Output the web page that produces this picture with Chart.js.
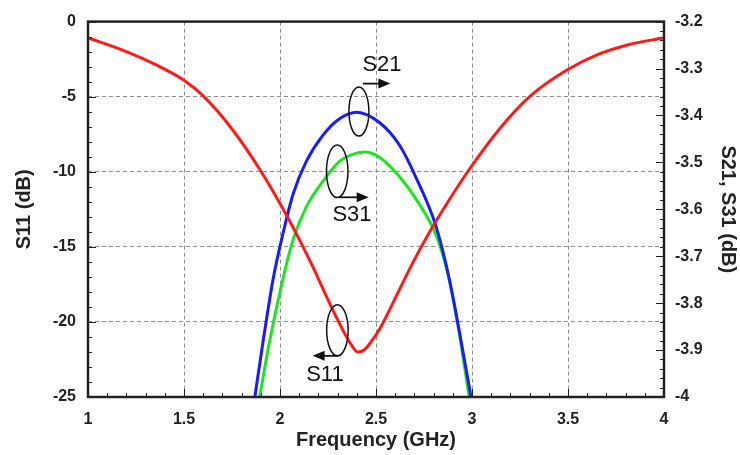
<!DOCTYPE html>
<html><head><meta charset="utf-8">
<script src="https://cdn.jsdelivr.net/npm/chart.js@4/dist/chart.umd.min.js"></script>
<style>html,body{margin:0;padding:0;background:#fff}#wrap{width:740px;height:455px;position:relative}</style>
</head><body><div id="wrap"><canvas id="c" width="740" height="455"></canvas></div>
<script>
// ---- data ----
const freqS11 = [1.0, 1.17, 1.35, 1.5, 1.6, 1.75, 1.9, 2.03, 2.1, 2.17, 2.26, 2.33, 2.37, 2.405, 2.44, 2.47, 2.52, 2.605, 2.69, 2.78, 2.88, 2.98, 3.14, 3.3, 3.49, 3.66, 3.82, 4.0];
const s11 =     [-1.09, -1.85, -2.85, -3.9, -4.95, -7.15, -9.95, -12.8, -14.5, -16.3, -18.8, -20.6, -21.5, -22.0, -21.85, -21.4, -20.45, -18.3, -16.1, -14.0, -11.9, -9.95, -7.2, -5.0, -3.26, -2.17, -1.52, -1.08];
const freqS21 = [1.869, 1.912, 1.964, 2.016, 2.068, 2.137, 2.224, 2.31, 2.40, 2.518, 2.622, 2.709, 2.813, 2.882, 2.934, 2.995];
const s21 =     [-4.0, -3.881, -3.749, -3.651, -3.568, -3.498, -3.442, -3.407, -3.393, -3.415, -3.463, -3.533, -3.637, -3.749, -3.86, -4.0];
const freqS31 = [1.894, 1.946, 2.007, 2.068, 2.137, 2.224, 2.31, 2.37, 2.44, 2.518, 2.622, 2.726, 2.813, 2.87, 2.93, 2.985];
const s31 =     [-4.0, -3.881, -3.763, -3.665, -3.595, -3.54, -3.498, -3.484, -3.478, -3.489, -3.530, -3.589, -3.655, -3.73, -3.855, -4.0];

const xTicks = [1, 1.5, 2, 2.5, 3, 3.5, 4];
const xTickLabels = ['1', '1.5', '2', '2.5', '3', '3.5', '4'];
const leftTicks = [-25, -20, -15, -10, -5, 0];
const leftTickLabels = ['-25', '-20', '-15', '-10', '-5', '0'];
const rightTicks = [-4, -3.9, -3.8, -3.7, -3.6, -3.5, -3.4, -3.3, -3.2];
const rightTickLabels = ['-4', '-3.9', '-3.8', '-3.7', '-3.6', '-3.5', '-3.4', '-3.3', '-3.2'];

// annotation labels (ellipse + arrow + text), positions in data units of x / left axis
const noteLabels = ['S21', 'S31', 'S11'];
const notePlacement = [
  {ex: 2.411, ey: -5.99, erx: 0.052, ery: 1.63, ax0: 2.432, ax1: 2.575, ay: -4.13, tx: 2.531, ty: -2.87},
  {ex: 2.298, ey: -9.97, erx: 0.056, ery: 1.75, ax0: 2.304, ax1: 2.462, ay: -11.7, tx: 2.375, ty: -12.86},
  {ex: 2.299, ey: -20.56, erx: 0.056, ery: 1.70, ax0: 2.304, ax1: 2.170, ay: -22.26, tx: 2.234, ty: -23.5}
];

const toPts = (xs, ys) => xs.map((x, i) => ({x: x, y: ys[i]}));
const FONT = "'Liberation Sans', Arial, sans-serif";
const labelFor = (vals, labs) => (v) => { const i = vals.findIndex(t => Math.abs(t - v) < 1e-6); return i >= 0 ? labs[i] : ''; };

const decor = {
  id: 'decor',
  afterDatasetsDraw(chart) {
    const ctx = chart.ctx, a = chart.chartArea;
    const sx = chart.scales.x, sy = chart.scales.y, sy2 = chart.scales.y2;
    ctx.save();
    ctx.strokeStyle = '#222';
    ctx.lineWidth = 1;
    for (let k = 0; k <= 30; k++) {
      const px = Math.round(sx.getPixelForValue(1 + k * 0.1)) + 0.5;
      const len = (k % 5 === 0) ? 8 : 4;
      ctx.beginPath(); ctx.moveTo(px, a.bottom); ctx.lineTo(px, a.bottom - len); ctx.stroke();
    }
    for (let k = 0; k <= 25; k++) {
      const py = Math.round(sy.getPixelForValue(-k)) + 0.5;
      const len = (k % 5 === 0) ? 8 : 4;
      ctx.beginPath(); ctx.moveTo(a.left, py); ctx.lineTo(a.left + len, py); ctx.stroke();
    }
    for (let k = 0; k <= 40; k++) {
      const py = Math.round(sy2.getPixelForValue(-3.2 - k * 0.02)) + 0.5;
      const len = (k % 5 === 0) ? 8 : 4;
      ctx.beginPath(); ctx.moveTo(a.right, py); ctx.lineTo(a.right - len, py); ctx.stroke();
    }
    ctx.lineWidth = 2.5;
    ctx.strokeStyle = '#222';
    ctx.strokeRect(a.left, a.top, a.right - a.left, a.bottom - a.top);

    ctx.strokeStyle = '#111';
    ctx.fillStyle = '#111';
    notePlacement.forEach((n, i) => {
      ctx.lineWidth = 1.5;
      const cx = sx.getPixelForValue(n.ex), cy = sy.getPixelForValue(n.ey);
      const rx = Math.abs(sx.getPixelForValue(n.ex + n.erx) - cx);
      const ry = Math.abs(sy.getPixelForValue(n.ey + n.ery) - cy);
      ctx.beginPath(); ctx.ellipse(cx, cy, rx, ry, 0, 0, Math.PI * 2); ctx.stroke();
      const x0 = sx.getPixelForValue(n.ax0), x1 = sx.getPixelForValue(n.ax1), ay = sy.getPixelForValue(n.ay);
      const dir = Math.sign(x1 - x0);
      ctx.lineWidth = 1.8;
      ctx.beginPath(); ctx.moveTo(x0, ay); ctx.lineTo(x1 - dir * 8, ay); ctx.stroke();
      ctx.beginPath(); ctx.moveTo(x1, ay); ctx.lineTo(x1 - dir * 12, ay - 5); ctx.lineTo(x1 - dir * 12, ay + 5); ctx.closePath(); ctx.fill();
      ctx.font = '22px ' + FONT;
      ctx.textAlign = 'center'; ctx.textBaseline = 'middle';
      ctx.fillText(noteLabels[i], sx.getPixelForValue(n.tx), sy.getPixelForValue(n.ty));
    });
    ctx.restore();
  }
};

const tickFont = {family: FONT, weight: 'bold', size: 16};
const titleFont = {family: FONT, weight: 'bold', size: 20};
const lineStyle = {borderWidth: 3, pointRadius: 0, cubicInterpolationMode: 'monotone', fill: false};

new Chart(document.getElementById('c'), {
  type: 'line',
  data: {
    datasets: [
      Object.assign({label: 'S11', data: toPts(freqS11, s11), yAxisID: 'y', borderColor: '#ff1a1a'}, lineStyle),
      Object.assign({label: 'S21', data: toPts(freqS21, s21), yAxisID: 'y2', borderColor: '#1a1aff'}, lineStyle),
      Object.assign({label: 'S31', data: toPts(freqS31, s31), yAxisID: 'y2', borderColor: '#1ee61e'}, lineStyle)
    ]
  },
  options: {
    responsive: false,
    animation: false,
    devicePixelRatio: 1,
    layout: {padding: {top: 14, left: 0, right: 0, bottom: 0}},
    plugins: {legend: {display: false}, tooltip: {enabled: false}},
    scales: {
      x: {
        type: 'linear', min: 1, max: 4,
        afterBuildTicks: s => { s.ticks = xTicks.map(v => ({value: v})); },
        afterFit: s => { s.height = 58; },
        ticks: {callback: labelFor(xTicks, xTickLabels), font: tickFont, color: '#222', padding: 13, maxRotation: 0, autoSkip: false},
        grid: {color: '#8c8c8c', lineWidth: 1, drawTicks: false},
        border: {display: false, dash: [4, 3]},
        title: {display: true, text: 'Frequency (GHz)', font: titleFont, color: '#222', padding: {top: 0, bottom: 3}}
      },
      y: {
        type: 'linear', position: 'left', min: -25, max: 0,
        afterBuildTicks: s => { s.ticks = leftTicks.map(v => ({value: v})); },
        afterFit: s => { s.width = 88; },
        ticks: {callback: labelFor(leftTicks, leftTickLabels), font: tickFont, color: '#222', padding: 12},
        grid: {color: '#8c8c8c', lineWidth: 1, drawTicks: false},
        border: {display: false, dash: [4, 3]},
        title: {display: true, text: 'S11 (dB)', font: titleFont, color: '#222', padding: {top: 12, bottom: 0}}
      },
      y2: {
        type: 'linear', position: 'right', min: -4, max: -3.2,
        afterBuildTicks: s => { s.ticks = rightTicks.map(v => ({value: v})); },
        afterFit: s => { s.width = 76; },
        ticks: {callback: labelFor(rightTicks, rightTickLabels), font: tickFont, color: '#222', padding: 11},
        grid: {drawOnChartArea: false, drawTicks: false},
        border: {display: false},
        title: {display: true, text: 'S21, S31 (dB)', font: titleFont, color: '#222', padding: {top: 0, bottom: 0}}
      }
    }
  },
  plugins: [decor]
});
</script>
</body></html>
